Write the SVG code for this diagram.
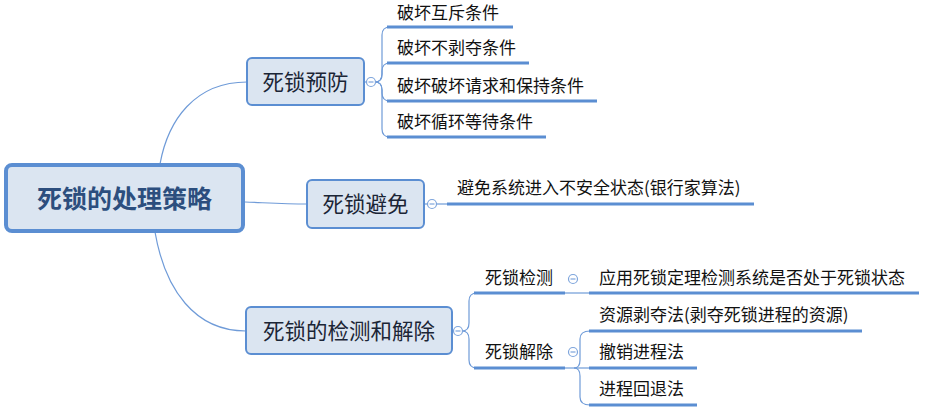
<svg xmlns="http://www.w3.org/2000/svg" width="934" height="413" viewBox="0 0 934 413">
<style>
.box{fill:#dbe5f1;stroke:#5b8ed2;stroke-width:2}
.root{fill:#dbe5f1;stroke:#5b8ed2;stroke-width:4}
.conn{fill:none;stroke:#6f9bd8;stroke-width:1.2}
.ul{stroke:#5b8ed2;stroke-width:3}
.tog{fill:#fff;stroke:#7ea5dc;stroke-width:1.2}
.togm{stroke:#7ea5dc;stroke-width:1.2}
text{font-family:"Microsoft YaHei","Noto Sans CJK SC","Noto Sans",sans-serif}
.t1{font-size:25px;font-weight:bold;fill:#2c4e7e}
.t2{font-size:21.5px;fill:#1b2536}
.t3{font-size:17px;fill:#111}
</style>
<g id="connectors">
<path class="conn" d="M160,164 C168,120 195,82 247,82"/>
<path class="conn" d="M245,202 C270,203 285,204 307,204"/>
<path class="conn" d="M155,232 C165,290 195,331 246,331"/>
<path class="conn" d="M364,82 L367,82"/>
<path class="conn" d="M424,204 L428,204"/>
<path class="conn" d="M452,331 L454,331"/>
<path class="conn" d="M375,82 Q382,82 382,74 L382,35 Q382,27 390,27"/>
<path class="conn" d="M375,82 Q382,82 382,74 L382,71 Q382,63 390,63"/>
<path class="conn" d="M375,82 Q382,82 382,90 L382,93 Q382,101 390,101"/>
<path class="conn" d="M375,82 Q382,82 382,90 L382,129 Q382,137 390,137"/>
<path class="conn" d="M436,204 L448,204"/>
<path class="conn" d="M462,331 Q469,331 469,323 L469,301 Q469,293 477,293"/>
<path class="conn" d="M462,331 Q469,331 469,339 L469,360 Q469,368 477,368"/>
<path class="conn" d="M565,293 L590,293"/>
<path class="conn" d="M565,368 L590,368"/>
<path class="conn" d="M574,368 Q580,368 580,360 L580,339 Q580,331 590,331"/>
<path class="conn" d="M574,368 Q580,368 580,376 L580,397 Q580,405 590,405"/>
</g>
<g id="root">
<rect class="root" x="6" y="165" width="237" height="66" rx="6"/>
<text class="t1" x="124.5" y="208" text-anchor="middle">死锁的处理策略</text>
</g>
<g id="n-prevent">
<rect class="box" x="247" y="58" width="117" height="47" rx="5"/>
<text class="t2" x="305.5" y="89.5" text-anchor="middle">死锁预防</text>
<circle class="tog" cx="371" cy="82" r="4.5"/><path class="togm" d="M368.5,82 H373.5"/>
</g>
<g id="n-p1"><text class="t3" x="397" y="19">破坏互斥条件</text><line class="ul" x1="387" y1="27" x2="513" y2="27"/></g>
<g id="n-p2"><text class="t3" x="397" y="54">破坏不剥夺条件</text><line class="ul" x1="387" y1="63" x2="529" y2="63"/></g>
<g id="n-p3"><text class="t3" x="397" y="92">破坏破坏请求和保持条件</text><line class="ul" x1="387" y1="101" x2="597" y2="101"/></g>
<g id="n-p4"><text class="t3" x="397" y="128">破坏循环等待条件</text><line class="ul" x1="387" y1="137" x2="546" y2="137"/></g>
<g id="n-avoid">
<rect class="box" x="307" y="180" width="117" height="48" rx="5"/>
<text class="t2" x="365.5" y="211.5" text-anchor="middle">死锁避免</text>
<circle class="tog" cx="432" cy="204" r="4.5"/><path class="togm" d="M429.5,204 H434.5"/>
</g>
<g id="n-a1"><text class="t3" x="457" y="194">避免系统进入不安全状态(银行家算法)</text><line class="ul" x1="447" y1="204" x2="754" y2="204"/></g>
<g id="n-detect">
<rect class="box" x="246" y="307" width="206" height="47" rx="5"/>
<text class="t2" x="349" y="338.5" text-anchor="middle">死锁的检测和解除</text>
<circle class="tog" cx="458" cy="331" r="4.5"/><path class="togm" d="M455.5,331 H460.5"/>
</g>
<g id="n-d1">
<text class="t3" x="485" y="284">死锁检测</text><line class="ul" x1="474" y1="293" x2="565" y2="293"/>
<circle class="tog" cx="573" cy="279" r="4.5"/><path class="togm" d="M570.5,279 H575.5"/>
</g>
<g id="n-d1a"><text class="t3" x="599" y="284">应用死锁定理检测系统是否处于死锁状态</text><line class="ul" x1="589" y1="293" x2="919" y2="293"/></g>
<g id="n-d2">
<text class="t3" x="485" y="358">死锁解除</text><line class="ul" x1="474" y1="368" x2="565" y2="368"/>
<circle class="tog" cx="573" cy="352" r="4.5"/><path class="togm" d="M570.5,352 H575.5"/>
</g>
<g id="n-d2a"><text class="t3" x="599" y="321">资源剥夺法(剥夺死锁进程的资源)</text><line class="ul" x1="589" y1="331" x2="862" y2="331"/></g>
<g id="n-d2b"><text class="t3" x="599" y="358">撤销进程法</text><line class="ul" x1="589" y1="368" x2="697" y2="368"/></g>
<g id="n-d2c"><text class="t3" x="599" y="395">进程回退法</text><line class="ul" x1="589" y1="405" x2="697" y2="405"/></g>
</svg>
